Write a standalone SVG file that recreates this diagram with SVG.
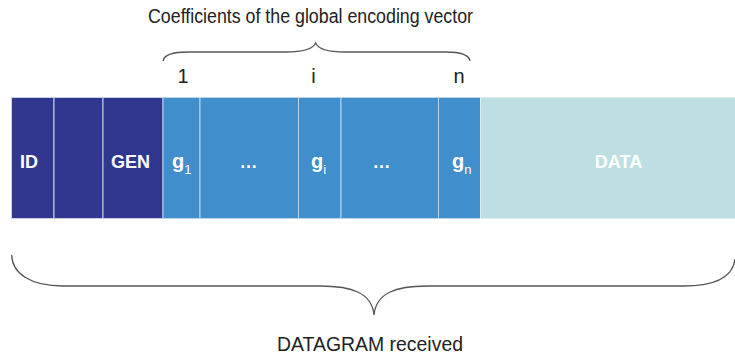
<svg xmlns="http://www.w3.org/2000/svg" width="735" height="356" viewBox="0 0 735 356">
  <style>
    .hdr { fill: #31378f; stroke: #c9cfe6; stroke-width: 1; }
    .coef { fill: #408ecb; stroke: #b9d6ef; stroke-width: 1; }
    .data { fill: #bddfe3; stroke: #dbeef0; stroke-width: 1; }
    .lbl { font-family: "Liberation Sans", Arial, sans-serif; font-weight: bold; font-size: 18px; fill: #ffffff; }
    .g { font-size: 20px; }
    .sub { font-family: "Liberation Sans", Arial, sans-serif; font-weight: normal; font-size: 13px; fill: #ffffff; }
    .note { font-family: "Liberation Sans", Arial, sans-serif; font-size: 20px; fill: #222222; }
    .brace { fill: none; stroke: #555555; stroke-width: 1.3; }
  </style>
  <rect width="735" height="356" fill="#ffffff"/>

  <!-- header fields -->
  <g id="id-field">
    <rect class="hdr" x="11.5" y="97.5" width="42.5" height="121"/>
    <text class="lbl" x="20" y="168">ID</text>
  </g>
  <g id="spare-field">
    <rect class="hdr" x="54" y="97.5" width="49" height="121"/>
  </g>
  <g id="gen-field">
    <rect class="hdr" x="103" y="97.5" width="60" height="121"/>
    <text class="lbl" x="111" y="168">GEN</text>
  </g>

  <!-- encoding vector coefficients -->
  <g id="coef-g1">
    <rect class="coef" x="163" y="97.5" width="37" height="121"/>
    <text class="lbl g" x="172" y="168">g<tspan class="sub" dy="6">1</tspan></text>
  </g>
  <g id="coef-gap1">
    <rect class="coef" x="200" y="97.5" width="98.5" height="121"/>
    <text class="lbl" x="248.5" y="168" text-anchor="middle">…</text>
  </g>
  <g id="coef-gi">
    <rect class="coef" x="298.5" y="97.5" width="42.5" height="121"/>
    <text class="lbl g" x="311" y="168">g<tspan class="sub" dy="6">i</tspan></text>
  </g>
  <g id="coef-gap2">
    <rect class="coef" x="341" y="97.5" width="97.5" height="121"/>
    <text class="lbl" x="381.5" y="168" text-anchor="middle">…</text>
  </g>
  <g id="coef-gn">
    <rect class="coef" x="438.5" y="97.5" width="42" height="121"/>
    <text class="lbl g" x="452" y="168">g<tspan class="sub" dy="6">n</tspan></text>
  </g>

  <!-- payload -->
  <g id="data-field">
    <rect class="data" x="480.5" y="97.5" width="256" height="121"/>
    <text class="lbl" x="618.5" y="168" text-anchor="middle">DATA</text>
  </g>

  <!-- braces -->
  <g id="braces">
    <path class="brace" d="M163,61 C164,55 172,52 188,52 L286,52 C302,52 313,49 315.7,43 C318,49 329,52 345,52 L446,52 C461,52 469,55 470,61"/>
    <path class="brace" d="M11.7,255 C12,273 30,286 63,286 L320,286 C352,286 372,293 374,315 C376,293 396,286 427,286 L683,286 C716,286 733,276 735,259"/>
  </g>

  <!-- annotations -->
  <g id="top-caption">
    <text class="note" x="148" y="23" textLength="325" lengthAdjust="spacingAndGlyphs">Coefficients of the global encoding vector</text>
    <text class="note" x="183" y="83" text-anchor="middle" font-size="19">1</text>
    <text class="note" x="313.5" y="83" text-anchor="middle" font-size="19">i</text>
    <text class="note" x="459" y="83" text-anchor="middle" font-size="19">n</text>
  </g>
  <g id="bottom-caption">
    <text class="note" x="277" y="351" textLength="186" lengthAdjust="spacingAndGlyphs">DATAGRAM received</text>
  </g>
</svg>
